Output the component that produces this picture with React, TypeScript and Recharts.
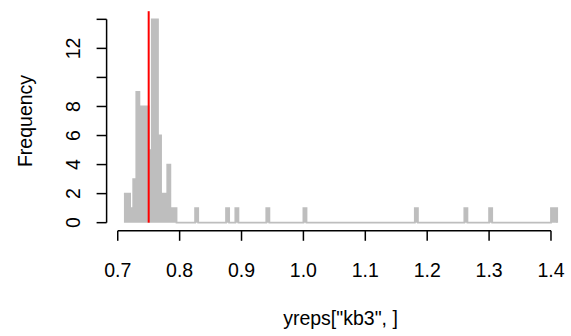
import React from 'react'
import { ComposedChart, Area, XAxis, YAxis, ReferenceLine } from 'recharts'

// histogram of yreps["kb3", ], bins of 0.005 (only non-empty bins listed)
const binStart = [
  0.71, 0.715, 0.72, 0.725, 0.73, 0.735, 0.74, 0.745, 0.75, 0.755, 0.76, 0.765,
  0.77, 0.775, 0.78, 0.785, 0.79, 0.825, 0.875, 0.89, 0.94, 1.0, 1.18, 1.26,
  1.3, 1.4, 1.405,
]
const binCount = [
  2, 2, 1, 3, 9, 8, 8, 8, 5, 14, 14, 6, 2, 2, 4, 1, 1, 1, 1, 1, 1, 1, 1, 1, 1,
  1, 1,
]
const binWidth = 0.005
const observed = 0.75

const xTicks = [0.7, 0.8, 0.9, 1.0, 1.1, 1.2, 1.3, 1.4]
const yTicks = [0, 2, 4, 6, 8, 10, 12, 14]
const yTickLabels = [0, 2, 4, 6, 8, 12]

const xDomain = [0.682, 1.438]
const yDomain = [-0.56, 14.56]

// step table for the area: each bin start, and a drop to 0 where a gap follows
const stepData: { x: number; y: number }[] = []
binStart.forEach((s, i) => {
  stepData.push({ x: s, y: binCount[i] })
  const end = Math.round((s + binWidth) * 1000) / 1000
  const next = binStart[i + 1]
  if (next === undefined || Math.abs(next - end) > 1e-9) {
    stepData.push({ x: end, y: 0 })
  }
})

const FONT = '"Liberation Sans", Arial, Helvetica, sans-serif'
const FS = 19.5

const XTick = ({ x, y, payload }: any) => (
  <text x={x} y={y} dy={34} textAnchor="middle" fontFamily={FONT} fontSize={FS} fill="#000">
    {payload.value.toFixed(1)}
  </text>
)

const YTick = ({ x, y, payload }: any) => {
  if (!yTickLabels.includes(payload.value)) return null
  const tx = x - 14.6
  return (
    <text
      x={tx}
      y={y}
      transform={`rotate(-90, ${tx}, ${y})`}
      textAnchor="middle"
      fontFamily={FONT}
      fontSize={FS}
      fill="#000"
    >
      {payload.value}
    </text>
  )
}

export default function App() {
  return (
    <div
      style={{
        position: 'absolute',
        left: 0,
        top: 0,
        width: 571,
        height: 336,
        overflow: 'hidden',
        background: '#fff',
      }}
    >
      <ComposedChart
        width={575}
        height={336}
        data={stepData}
        margin={{ top: 11.2, right: 0.5, bottom: 45.2, left: 0 }}
      >
        <XAxis
          dataKey="x"
          type="number"
          domain={xDomain}
          ticks={xTicks}
          allowDataOverflow
          axisLine={false}
          tickLine={{ stroke: '#000', strokeWidth: 1.5 }}
          tickSize={10}
          height={60}
          tick={<XTick />}
        />
        <YAxis
          type="number"
          domain={yDomain}
          ticks={yTicks}
          allowDataOverflow
          axisLine={false}
          tickLine={{ stroke: '#000', strokeWidth: 1.5 }}
          tickSize={10}
          width={106.6}
          tick={<YTick />}
        />
        <Area
          type="stepAfter"
          dataKey="y"
          baseValue={0}
          fill="#bebebe"
          fillOpacity={1}
          stroke="#bebebe"
          strokeWidth={1.8}
          dot={false}
          activeDot={false}
          isAnimationActive={false}
        />
        <ReferenceLine
          segment={[
            { x: observed, y: 0 },
            { x: observed, y: yDomain[1] },
          ]}
          stroke="#ff0000"
          strokeWidth={2}
        />
        <ReferenceLine
          segment={[
            { x: xTicks[0], y: yDomain[0] },
            { x: xTicks[xTicks.length - 1], y: yDomain[0] },
          ]}
          stroke="#000"
          strokeWidth={1.5}
          ifOverflow="visible"
        />
        <ReferenceLine
          segment={[
            { x: xDomain[0], y: yTicks[0] },
            { x: xDomain[0], y: yTicks[yTicks.length - 1] },
          ]}
          stroke="#000"
          strokeWidth={1.5}
          ifOverflow="visible"
        />
        <text x={340.5} y={325} textAnchor="middle" fontFamily={FONT} fontSize={FS} fill="#000">
          yreps["kb3", ]
        </text>
        <text
          x={32}
          y={121}
          transform="rotate(-90, 32, 121)"
          textAnchor="middle"
          fontFamily={FONT}
          fontSize={FS}
          fill="#000"
        >
          Frequency
        </text>
      </ComposedChart>
    </div>
  )
}
